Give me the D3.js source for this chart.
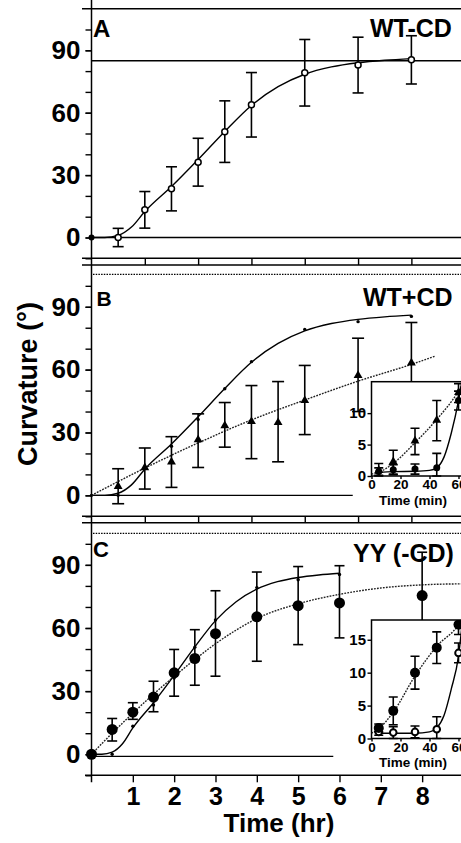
<!DOCTYPE html>
<html>
<head>
<meta charset="utf-8">
<script src="https://cdn.jsdelivr.net/npm/d3@7"></script>
<style>
body{margin:0;background:#fff}
svg{display:block}
text{font-family:"Liberation Sans",Arial,sans-serif;font-weight:bold;fill:#000}
</style>
</head>
<body>
<div id="vis"></div>
<script>
//data----
// panel A: WT -CD (hours)
const hoursA = [0, 0.5, 1, 1.5, 2, 2.5, 3, 4, 5, 6]
const wtMinus = [0, 0, 13.3, 23.4, 36.2, 50.9, 63.8, 79.2, 82.9, 85.4]
const wtMinusErr = [0, 4.4, 8.8, 10.6, 11.5, 14.8, 15.5, 16, 13.4, 11.6]
const wtMinusFit = [[0,0],[0.25,0],[0.5,1],[0.75,5],[1,12.5],[1.5,24.5],[2,37.5],[2.5,51],[3,63.5],[3.5,72.5],[4,78.5],[4.5,82],[5,84],[5.5,85.2],[6,86]]
const wtMinusPlateau = 85

// panel B: WT +CD
const hoursB = [0.5, 1, 1.5, 2, 2.5, 3, 3.5, 4, 5, 6]
const wtPlus = [4, 13, 15.7, 26.3, 33, 35, 34.5, 45, 57, 63]
const wtPlusLow = [-4, 3, 3.8, 13.3, 23, 17.5, 16, 29, 40, 43]
const wtPlusHigh = [12.7, 22.6, 28, 38.9, 44.3, 52.4, 54.3, 62, 75, 82.5]
const wtPlusFit = [[0,0],[1,13],[2,25],[3,36],[4,45.5],[5,54.5],[6,62.5],[6.45,66.5]]
const baselineB = [[0,0],[4.9,0]]

// panel C: YY -CD
const hoursC = [0, 0.5, 1, 1.5, 2, 2.5, 3, 4, 5, 6, 8]
const yy = [0, 11.8, 20, 27.2, 38.7, 45.5, 57.3, 65.3, 70.6, 71.9, 75.4]
const yyLow = [0, 6.3, 16.6, 20.2, 27.6, 32.8, 37.1, 44.2, 52.1, 55.3, 55]
const yyHigh = [0, 17, 24.5, 34.7, 49.8, 59.2, 77.7, 86.6, 89.2, 89.6, 96]
const yyFit = [[0,0],[0.5,10],[1,19.5],[1.5,28.5],[2,37],[2.5,45],[3,52.5],[3.5,59],[4,64.5],[5,71.5],[6,76],[7,79],[8,80.5],[9,81]]
const baselineC = [[0,-1],[5.85,-1]]

// insets (minutes)
const minutes = [5, 15, 30, 45, 60]
const insetBTri = [0.8, 2.2, 5.5, 8.8, 13.2]
const insetBTriErr = [1.2, 1.9, 2.1, 3.2, 1.5]
const insetBCirc = [0.7, 1.0, 1.1, 1.3, 12]
const insetBCircErr = [0.6, 0.8, 0.8, 2.3, 1.5]
const insetBTriFit = [[0,0.3],[5,0.6],[15,2],[30,5.3],[45,9],[60,13.5],[65,15.5]]
const insetBCircFit = [[5,0.6],[15,0.7],[30,0.75],[40,0.9],[45,1.3],[50,3],[55,6.8],[60,12],[63,16]]

const insetCBig = [1.6, 4.2, 10, 13.8, 17.3]
const insetCBigErr = [0.6, 2.1, 2.5, 2.4, 1.5]
const insetCSmall = [1.0, 0.9, 1.0, 1.4, 13]
const insetCSmallErr = [0.5, 0.9, 0.9, 1.9, 1.5]
const insetCBigFit = [[0,0.8],[5,1.5],[15,4],[30,9.5],[45,14],[60,17.2],[64,18.5]]
const insetCSmallFit = [[5,0.8],[30,0.8],[40,1],[45,1.6],[50,3.5],[55,7.5],[60,12.5],[63,18.5]]

// ticks
const yMajor = [0, 30, 60, 90]
const yMinor = [-10, 0, 10, 20, 30, 40, 50, 60, 70, 80, 90, 100]
const hourTicksAB = [1, 2, 3, 4, 5, 6]
const hourTicksC = [1, 2, 3, 4, 5, 6, 7, 8]
const minTicks = [0, 20, 40, 60]
const insetBTicks = [0, 5, 10]
const insetCTicks = [0, 5, 10, 15]

//dimensions----
const W = 461, H = 843
const axisX = 91.5

const svg = d3.select("#vis").append("svg")
    .attr("width", W)
    .attr("height", H)

//scales----
const xAB = d3.scaleLinear().domain([0, 6.94]).range([axisX, 461.5])
const xC = d3.scaleLinear().domain([0, 8.94]).range([axisX, 461])
const yA = d3.scaleLinear().domain([-10, 110]).range([258.3, 8.7])
const yB = d3.scaleLinear().domain([-10, 105.5]).range([516.3, 274.3])
const yC = d3.scaleLinear().domain([-10, 105]).range([775.3, 533.3])

const xIn = d3.scaleLinear().domain([0, 62]).range([371.5, 461.4])
const yInB = d3.scaleLinear().domain([0, 15]).range([476, 381.7])
const yInC = d3.scaleLinear().domain([0, 18]).range([738.5, 620])

//helpers----
function hline(g, x1, x2, y, dash, w) {
    g.append("line")
        .attr("x1", x1).attr("x2", x2)
        .attr("y1", y).attr("y2", y)
        .attr("stroke", "#000")
        .attr("stroke-width", w || 1.4)
        .attr("stroke-dasharray", dash || null)
}

function drawCurve(g, pts, x, y, dotted) {
    g.append("path")
        .datum(pts)
        .attr("d", d3.line()
            .x(d => x(d[0]))
            .y(d => y(d[1]))
            .curve(d3.curveMonotoneX))
        .attr("fill", "none")
        .attr("stroke", dotted ? "#222" : "#000")
        .attr("stroke-width", 1.4)
        .attr("stroke-dasharray", dotted ? "1.8,1.2" : null)
}

function errorBars(g, xs, lo, hi, x, y, cap) {
    const rows = xs.map((t, i) => ({t, lo: lo[i], hi: hi[i]})).filter(d => d.hi !== d.lo)
    const eb = g.append("g")
        .attr("stroke", "#000")
        .attr("stroke-width", 1.6)
    eb.selectAll(".v").data(rows).enter().append("line")
        .attr("x1", d => x(d.t)).attr("x2", d => x(d.t))
        .attr("y1", d => y(d.lo)).attr("y2", d => y(d.hi))
    eb.selectAll(".top").data(rows).enter().append("line")
        .attr("x1", d => x(d.t) - cap / 2).attr("x2", d => x(d.t) + cap / 2)
        .attr("y1", d => y(d.hi)).attr("y2", d => y(d.hi))
    eb.selectAll(".bot").data(rows).enter().append("line")
        .attr("x1", d => x(d.t) - cap / 2).attr("x2", d => x(d.t) + cap / 2)
        .attr("y1", d => y(d.lo)).attr("y2", d => y(d.lo))
}

function circles(g, xs, vals, x, y, r, fill, sw) {
    g.selectAll(null).data(xs).enter().append("circle")
        .attr("cx", d => x(d))
        .attr("cy", (d, i) => y(vals[i]))
        .attr("r", r)
        .attr("fill", fill)
        .attr("stroke", "#000")
        .attr("stroke-width", sw || 0)
}

function triangles(g, xs, vals, x, y, size) {
    g.selectAll(null).data(xs).enter().append("path")
        .attr("d", d3.symbol().type(d3.symbolTriangle).size(size))
        .attr("transform", (d, i) => `translate(${x(d)},${y(vals[i]) - 0.5})`)
        .attr("fill", "#000")
}

function yAxis(g, y) {
    g.append("g")
        .attr("transform", `translate(${axisX},0)`)
        .call(d3.axisLeft(y).tickValues(yMinor).tickSize(6).tickFormat(""))
        .call(a => a.select(".domain").remove())
        .call(a => a.selectAll("line").attr("stroke-width", 1.4))
    g.append("g")
        .attr("transform", `translate(${axisX},0)`)
        .call(d3.axisLeft(y).tickValues(yMajor).tickSize(6).tickPadding(5))
        .call(a => a.select(".domain").remove())
        .call(a => a.selectAll("line").attr("stroke-width", 1.4))
        .call(a => a.selectAll("text").style("font-size", "26px").attr("font-family", null))
}

function doubleAxis(g, x, yTop, gap) {
    hline(g, 82, W, yTop)
    hline(g, 82, W, yTop + gap)
    g.append("g")
        .attr("transform", `translate(0,${yTop})`)
        .call(d3.axisBottom(x).tickValues(hourTicksAB).tickSize(gap).tickFormat(""))
        .call(a => a.select(".domain").remove())
        .call(a => a.selectAll("line").attr("stroke-width", 1.4))
}

function label(g, txt, x, y, size, anchor) {
    g.append("text")
        .attr("x", x).attr("y", y)
        .attr("text-anchor", anchor || "start")
        .style("font-size", size + "px")
        .text(txt)
}

//panel A----
const gA = svg.append("g")
hline(gA, 82, W, yA(110))
hline(gA, axisX, W, yA(0))
hline(gA, axisX, W, yA(wtMinusPlateau))
yAxis(gA, yA)
doubleAxis(gA, xAB, yA(-10), 6.7)
drawCurve(gA, wtMinusFit, xAB, yA, false)
errorBars(gA, hoursA,
    wtMinus.map((v, i) => v - wtMinusErr[i]),
    wtMinus.map((v, i) => v + wtMinusErr[i]), xAB, yA, 11)
circles(gA, hoursA.slice(1), wtMinus.slice(1), xAB, yA, 3, "#fff", 1.5)
circles(gA, hoursA.slice(0, 1), wtMinus.slice(0, 1), xAB, yA, 3, "#000", 0)
label(gA, "A", 93, 36.7, 24)
label(gA, "WT-CD", 370, 36.7, 25)

//panel B----
const gB = svg.append("g")
hline(gB, 93, W, yB(105.5), "1.5,1.2", 1.2)
drawCurve(gB, baselineB, xAB, yB, false)
yAxis(gB, yB)
doubleAxis(gB, xAB, yB(-10), 6.4)
drawCurve(gB, wtMinusFit, xAB, yB, false)
circles(gB, hoursA, wtMinus, xAB, yB, 1.7, "#000", 0)
drawCurve(gB, wtPlusFit, xAB, yB, true)
errorBars(gB, hoursB, wtPlusLow, wtPlusHigh, xAB, yB, 12)
triangles(gB, hoursB, wtPlus, xAB, yB, 34)
label(gB, "B", 96.5, 305.5, 21)
label(gB, "WT+CD", 363, 306, 25)

//panel C----
const gC = svg.append("g")
hline(gC, 93, W, yC(105), "1.5,1.2", 1.2)
drawCurve(gC, baselineC, xC, yC, false)
yAxis(gC, yC)
hline(gC, 85, W, yC(-10))
gC.append("g")
    .attr("transform", `translate(0,${yC(-10)})`)
    .call(d3.axisBottom(xC).tickValues(hourTicksC).tickSize(7).tickPadding(4.5))
    .call(a => a.select(".domain").remove())
    .call(a => a.selectAll("line").attr("stroke-width", 1.4))
    .call(a => a.selectAll("text").style("font-size", "25px").attr("font-family", null))
drawCurve(gC, wtMinusFit, xC, yC, false)
circles(gC, hoursA.slice(1), wtMinus.slice(1), xC, yC, 1.7, "#000", 0)
drawCurve(gC, yyFit, xC, yC, true)
errorBars(gC, hoursC, yyLow, yyHigh, xC, yC, 10)
circles(gC, hoursC, yy, xC, yC, 5.5, "#000", 0)
label(gC, "C", 93, 557, 22)
label(gC, "YY (-CD)", 353, 562, 25)

//vertical axis line----
svg.append("line")
    .attr("x1", axisX).attr("x2", axisX)
    .attr("y1", 0).attr("y2", yC(-10) + 7)
    .attr("stroke", "#000").attr("stroke-width", 1.5)

//insets----
function inset(id, yS, ticks, titleY) {
    const g = svg.append("g")
    const x0 = xIn(0), y0 = yS(0), yTop = yS.range()[1]
    g.append("rect")
        .attr("x", x0).attr("y", yTop)
        .attr("width", W - x0 + 10).attr("height", y0 - yTop)
        .attr("fill", "#fff").attr("stroke", "#000").attr("stroke-width", 1.5)
    svg.append("clipPath").attr("id", id)
        .append("rect")
        .attr("x", x0).attr("y", yTop)
        .attr("width", W - x0 + 10).attr("height", y0 - yTop + 6)
    g.append("g")
        .attr("transform", `translate(${x0},0)`)
        .call(d3.axisLeft(yS).tickValues(ticks).tickSize(4).tickPadding(1.5))
        .call(a => a.select(".domain").remove())
        .call(a => a.selectAll("line").attr("stroke-width", 1.4))
        .call(a => a.selectAll("text").style("font-size", "15px").attr("font-family", null))
    g.append("g")
        .attr("transform", `translate(0,${y0})`)
        .call(d3.axisBottom(xIn).tickValues(minTicks).tickSize(3).tickPadding(0.5))
        .call(a => a.select(".domain").remove())
        .call(a => a.selectAll("line").attr("stroke-width", 1.4))
        .call(a => a.selectAll("text").style("font-size", "13.5px").attr("font-family", null))
    label(g, "Time (min)", 413, titleY, 13.5, "middle")
    return g.append("g").attr("clip-path", `url(#${id})`)
}

const iB = inset("clipB", yInB, insetBTicks, 505)
drawCurve(iB, insetBTriFit, xIn, yInB, true)
drawCurve(iB, insetBCircFit, xIn, yInB, false)
errorBars(iB, minutes,
    insetBTri.map((v, i) => Math.max(0, v - insetBTriErr[i])),
    insetBTri.map((v, i) => v + insetBTriErr[i]), xIn, yInB, 9)
errorBars(iB, minutes,
    insetBCirc.map((v, i) => Math.max(0, v - insetBCircErr[i])),
    insetBCirc.map((v, i) => v + insetBCircErr[i]), xIn, yInB, 9)
circles(iB, minutes, insetBCirc, xIn, yInB, 3.5, "#000", 0)
triangles(iB, minutes, insetBTri, xIn, yInB, 34)

const iC = inset("clipC", yInC, insetCTicks, 767)
drawCurve(iC, insetCBigFit, xIn, yInC, true)
drawCurve(iC, insetCSmallFit, xIn, yInC, false)
errorBars(iC, minutes,
    insetCBig.map((v, i) => Math.max(0, v - insetCBigErr[i])),
    insetCBig.map((v, i) => v + insetCBigErr[i]), xIn, yInC, 9)
errorBars(iC, minutes,
    insetCSmall.map((v, i) => Math.max(0, v - insetCSmallErr[i])),
    insetCSmall.map((v, i) => v + insetCSmallErr[i]), xIn, yInC, 9)
circles(iC, minutes, insetCSmall, xIn, yInC, 3.3, "#fff", 2)
circles(iC, minutes, insetCBig, xIn, yInC, 5, "#000", 0)

//axis titles----
label(svg, "Time (hr)", 279, 832, 26, "middle")
svg.append("text")
    .attr("transform", "translate(37,384) rotate(-90)")
    .attr("text-anchor", "middle")
    .style("font-size", "27px")
    .text("Curvature (°)")
</script>
</body>
</html>
